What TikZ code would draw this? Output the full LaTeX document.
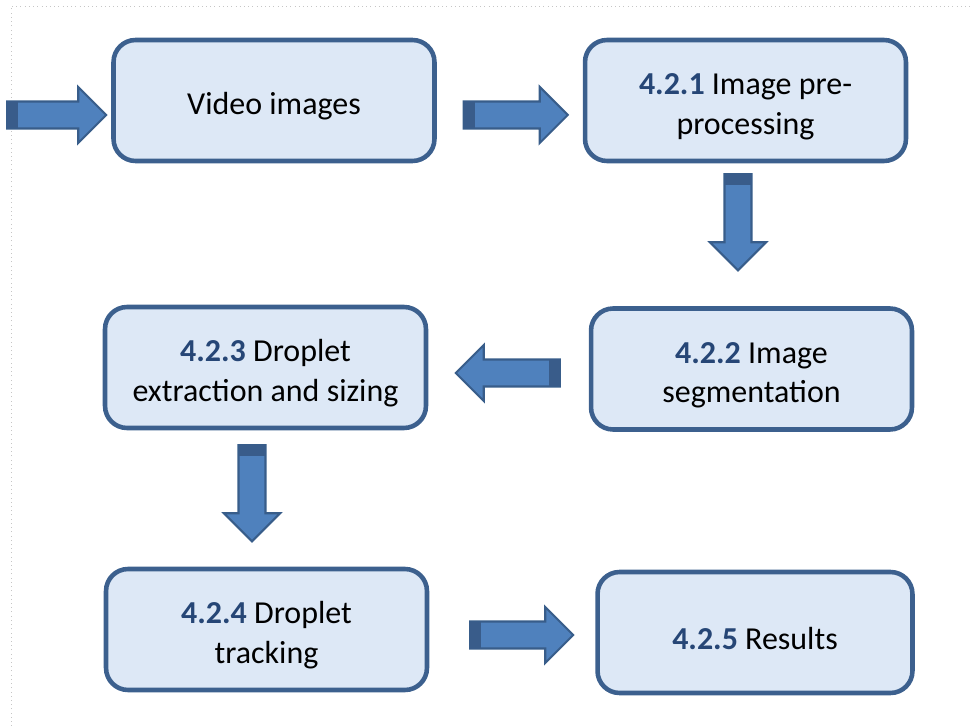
\documentclass[tikz,border=0pt]{standalone}
\usepackage{fontspec}
\setmainfont{Carlito}
\usetikzlibrary{calc}

\definecolor{boxfill}{RGB}{221,232,246}
\definecolor{boxline}{RGB}{60,96,142}
\definecolor{flowfill}{RGB}{79,129,189}
\definecolor{flowline}{RGB}{56,93,138}
\definecolor{flowcap}{RGB}{57,92,138}
\definecolor{numblue}{RGB}{38,70,118}

% section number, with a strut that lowers the text a little
\newcommand{\secno}[1]{\rule{0pt}{19pt}\textbf{\color{numblue}#1}}

\tikzset{
  pics/flowarrow/.style={code={
    \draw[flowline, fill=flowfill, line width=1.2pt, line join=miter]
      (0,-13.5) -- (#1-28,-13.5) -- (#1-28,-28) -- (#1,0)
      -- (#1-28,28) -- (#1-28,13.5) -- (0,13.5) -- cycle;
    \fill[flowcap] (0,-13.5) rectangle (11,13.5);
  }}
}

\begin{document}
\begin{tikzpicture}[
  x=0.02cm, y=-0.02cm,
  stage/.style={rectangle, rounded corners=0.44cm, draw=boxline,
                line width=2.6pt, fill=boxfill, minimum width=6.42cm,
                minimum height=2.42cm, align=center, inner sep=2pt,
                font=\fontsize{18.2}{22.7}\selectfont,
                execute at begin node={\rule{0pt}{19pt}}},
]
\useasboundingbox (0,0) rectangle (971,726);
\draw[dotted, gray!45] (11,726) -- (11,6) -- (971,6);

\node[stage] (video) at (274, 100.5) {Video images};
\node[stage] (pre)   at (745.5, 100.5) {\secno{4.2.1} Image pre-\\processing};
\node[stage] (seg)   at (751.5, 369) {\secno{4.2.2} Image\\segmentation};
\node[stage] (size)  at (265.5, 367.5) {\secno{4.2.3} Droplet\\extraction and sizing};
\node[stage] (track) at (266.5, 629.5) {\secno{4.2.4} Droplet\\tracking};
\node[stage, minimum width=6.3cm] (res) at (755, 632.5) {\secno{4.2.5} Results};

\pic at ($(video.west)+(-104,14.5)$) {flowarrow=99};
\pic at ($(video.east)+(27,14.5)$) {flowarrow=104};
\pic[rotate=-90] at ($(pre.south)+(-7.5,11)$) {flowarrow=96};
\pic[rotate=180] at ($(seg.west)+(-29,4)$) {flowarrow=104};
\pic[rotate=-90] at ($(size.south)+(-13.5,15)$) {flowarrow=96};
\pic at ($(track.east)+(41,5.5)$) {flowarrow=103};
\end{tikzpicture}
\end{document}
